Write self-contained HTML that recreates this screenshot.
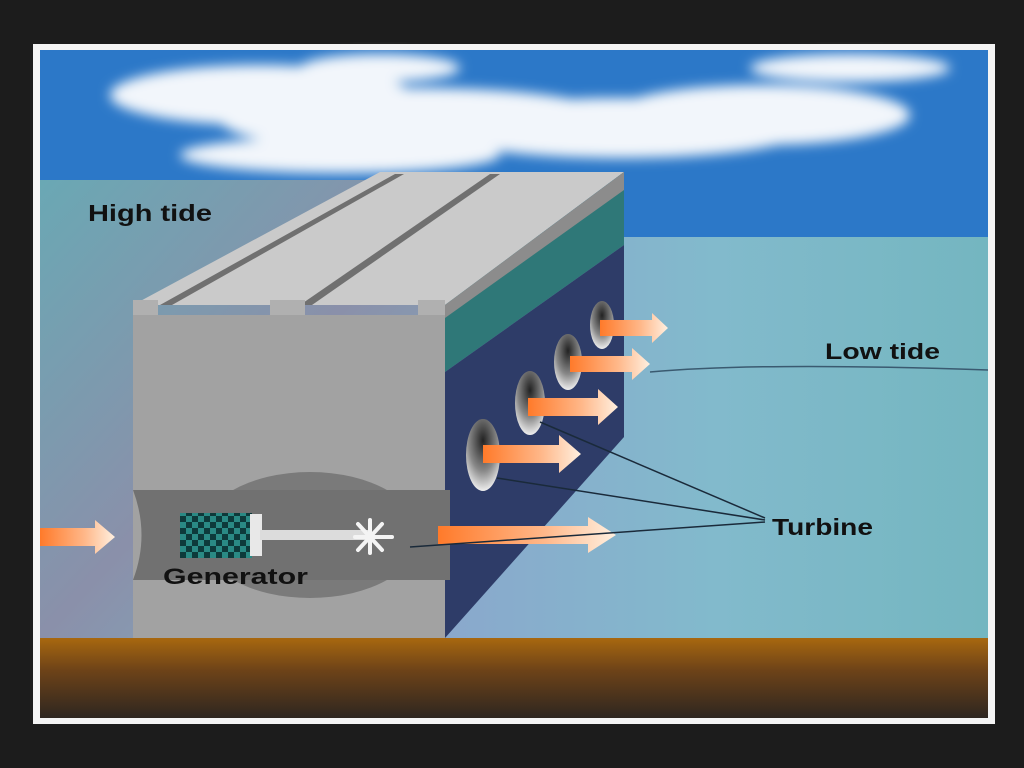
<!DOCTYPE html>
<html><head><meta charset="utf-8"><style>
html,body{margin:0;padding:0;background:#1c1c1c;width:1024px;height:768px;overflow:hidden}
text{font-family:"Liberation Sans",sans-serif;font-weight:bold;fill:#111}
</style></head><body>
<svg width="1024" height="768" viewBox="0 0 1024 768" xmlns="http://www.w3.org/2000/svg">
<defs>
<linearGradient id="ground" x1="0" y1="0" x2="0" y2="1"><stop offset="0" stop-color="#a8680f"/><stop offset="0.4" stop-color="#6e4318"/><stop offset="1" stop-color="#2e2620"/></linearGradient>
<linearGradient id="lw" x1="0" y1="0" x2="1" y2="1"><stop offset="0" stop-color="#6aa8b4"/><stop offset="0.5" stop-color="#8a90aa"/><stop offset="1" stop-color="#7fb4c4"/></linearGradient>
<linearGradient id="rw" x1="0" y1="0" x2="1" y2="0"><stop offset="0" stop-color="#8aa8cc"/><stop offset="0.5" stop-color="#82bacc"/><stop offset="1" stop-color="#74b6c0"/></linearGradient>
<linearGradient id="ar" x1="0" y1="0" x2="1" y2="0"><stop offset="0" stop-color="#ff7a2a"/><stop offset="0.6" stop-color="#ffb88a"/><stop offset="1" stop-color="#fff0e0"/></linearGradient>
<radialGradient id="hole" cx="0.5" cy="0.3" r="0.7"><stop offset="0" stop-color="#222"/><stop offset="0.6" stop-color="#888"/><stop offset="1" stop-color="#eee"/></radialGradient>
<pattern id="chk" width="12" height="12" patternUnits="userSpaceOnUse"><rect width="12" height="12" fill="#2a8a84"/><rect width="6" height="6" fill="#0d3a3a"/><rect x="6" y="6" width="6" height="6" fill="#0d3a3a"/></pattern>
<filter id="blur"><feGaussianBlur stdDeviation="6"/></filter>
</defs>
<rect x="33" y="44" width="962" height="680" fill="#f4f4f4"/>
<rect x="40" y="50" width="948" height="668" fill="#2c78c8"/>
<g fill="#f2f6fb" filter="url(#blur)">
<ellipse cx="260" cy="95" rx="150" ry="30"/><ellipse cx="420" cy="120" rx="200" ry="32"/><ellipse cx="620" cy="128" rx="190" ry="30"/><ellipse cx="760" cy="115" rx="150" ry="30"/><ellipse cx="850" cy="68" rx="100" ry="14"/><ellipse cx="340" cy="155" rx="160" ry="18"/><ellipse cx="380" cy="68" rx="80" ry="14"/>
</g>
<rect x="40" y="180" width="420" height="458" fill="url(#lw)"/>
<rect x="445" y="237" width="543" height="401" fill="url(#rw)"/>
<path d="M650 372 Q760 362 988 370" stroke="#3a5a70" stroke-width="1.5" fill="none"/>
<rect x="40" y="638" width="948" height="80" fill="url(#ground)"/>
<!-- block -->
<polygon points="133,305 380,172 624,172 445,305" fill="#cacaca"/>
<polygon points="160,305 395,174 404,174 172,305" fill="#707070"/>
<polygon points="300,305 490,174 500,174 312,305" fill="#707070"/>
<polygon points="133,300 158,300 158,318 133,318" fill="#b0b0b0"/>
<polygon points="270,300 305,300 305,318 270,318" fill="#b0b0b0"/>
<polygon points="418,300 445,300 445,318 418,318" fill="#b0b0b0"/>
<rect x="133" y="315" width="312" height="323" fill="#a2a2a2"/>
<polygon points="445,305 624,172 624,245 445,372" fill="#2f7878"/>
<polygon points="445,372 624,245 624,437 445,638" fill="#2e3c68"/>
<polygon points="445,305 624,172 624,190 445,318" fill="#8c8c8c"/>
<ellipse cx="310" cy="535" rx="110" ry="63" fill="#7a7a7a"/>
<path d="M133 490 L450 490 L450 580 L133 580 Q150 535 133 490Z" fill="#717171"/>
<rect x="180" y="513" width="72" height="45" fill="url(#chk)"/>
<rect x="250" y="514" width="12" height="42" fill="#e8e8e8"/>
<rect x="260" y="530" width="110" height="10" fill="#dcdcdc"/>
<g stroke="#f4f4f4" stroke-width="4" stroke-linecap="round"><line x1="370" y1="520" x2="370" y2="553"/><line x1="358" y1="524" x2="382" y2="550"/><line x1="382" y1="524" x2="358" y2="550"/><line x1="355" y1="537" x2="392" y2="537"/></g>
<!-- holes -->
<ellipse cx="602" cy="325" rx="12" ry="24" fill="url(#hole)"/>
<ellipse cx="568" cy="362" rx="14" ry="28" fill="url(#hole)"/>
<ellipse cx="530" cy="403" rx="15" ry="32" fill="url(#hole)"/>
<ellipse cx="483" cy="455" rx="17" ry="36" fill="url(#hole)"/>
<!-- arrows -->
<g fill="url(#ar)">
<path d="M600 320 h52 v-7 l16 15 l-16 15 v-7 h-52z"/>
<path d="M570 356 h62 v-8 l18 16 l-18 16 v-8 h-62z"/>
<path d="M528 398 h70 v-9 l20 18 l-20 18 v-9 h-70z"/>
<path d="M483 445 h76 v-10 l22 19 l-22 19 v-10 h-76z"/>
<path d="M438 526 h150 v-9 l28 18 l-28 18 v-9 h-150z"/>
<path d="M40 528 h55 v-8 l20 17 l-20 17 v-8 h-55z"/>
</g>
<g stroke="#1a2a3a" stroke-width="1.5" fill="none">
<line x1="540" y1="422" x2="765" y2="518"/><line x1="497" y1="478" x2="765" y2="520"/><line x1="410" y1="547" x2="765" y2="522"/>
</g>
<text x="88" y="221" font-size="23" textLength="124" lengthAdjust="spacingAndGlyphs">High tide</text>
<text x="825" y="359" font-size="22" textLength="115" lengthAdjust="spacingAndGlyphs">Low tide</text>
<text x="772" y="535" font-size="23" textLength="101" lengthAdjust="spacingAndGlyphs">Turbine</text>
<text x="163" y="584" font-size="22" textLength="145" lengthAdjust="spacingAndGlyphs">Generator</text>
</svg>
</body></html>
